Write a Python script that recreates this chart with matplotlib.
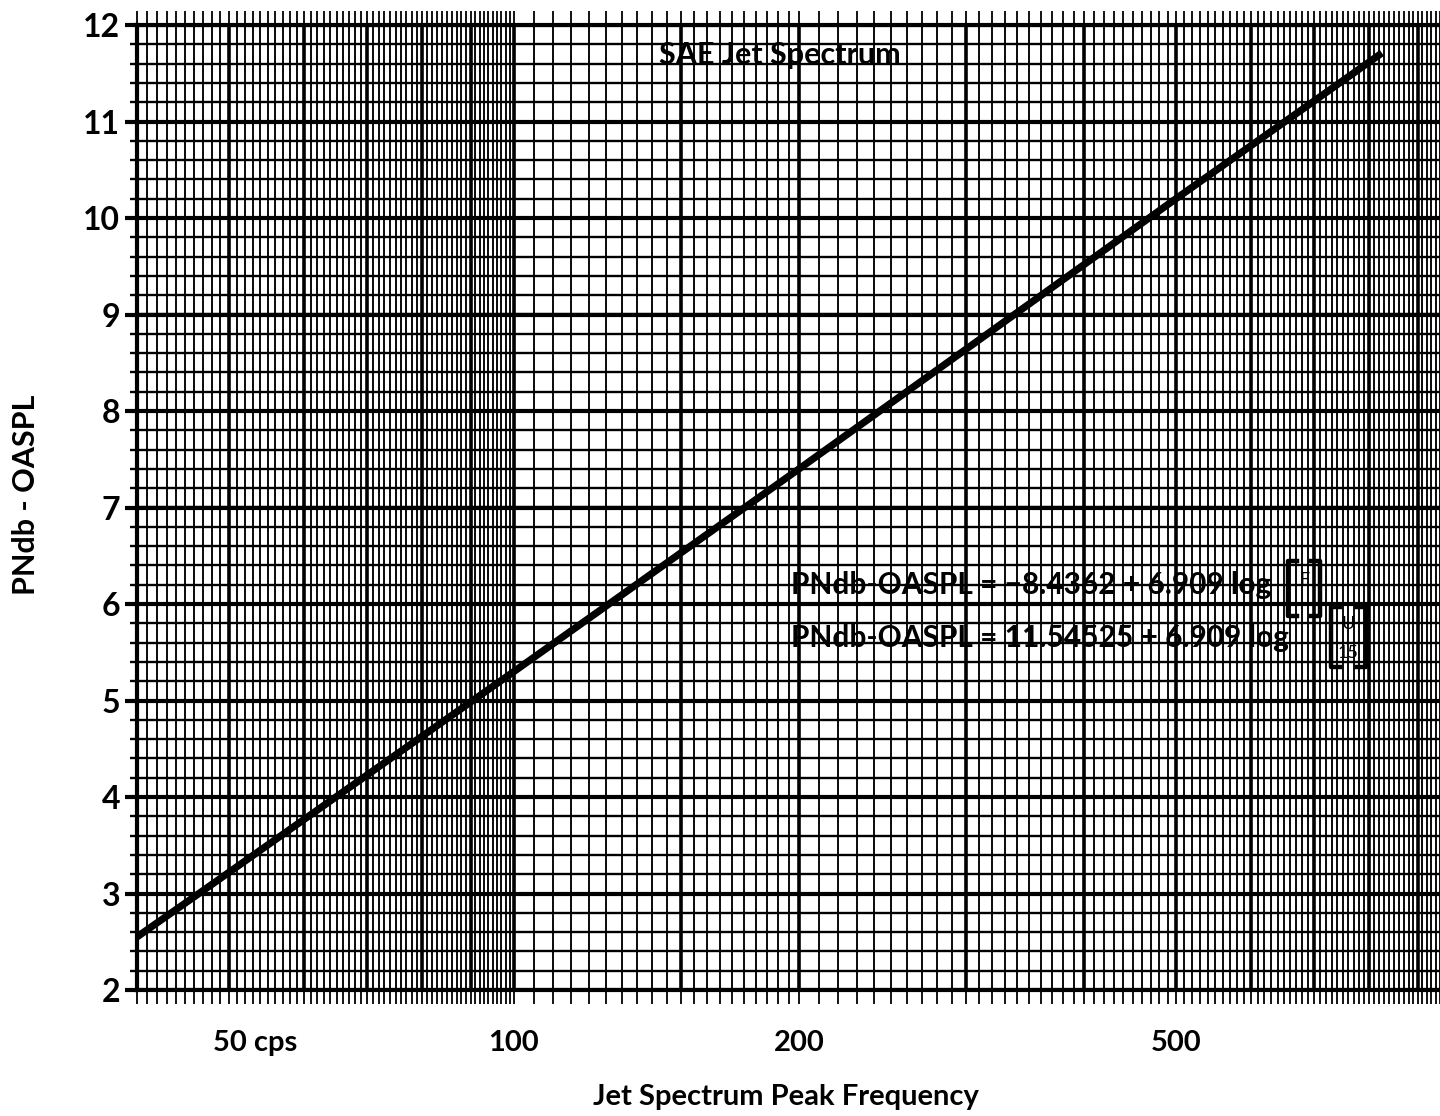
import matplotlib
matplotlib.use("Agg")
import matplotlib.pyplot as plt
import matplotlib.transforms as mtransforms
from matplotlib.lines import Line2D
import numpy as np

# values (straight line on semilog paper)
freq_hz = [40, 46.5, 100, 200, 500, 825]
pndb_minus_oaspl = [2.55, 3.0, 5.3, 7.4, 10.2, 11.71]

x_tick_vals = [50, 100, 200, 500]
x_tick_text = ["50 cps", "100", "200", "500"]
y_tick_vals = [2, 3, 4, 5, 6, 7, 8, 9, 10, 11, 12]

# log paper rulings
heavy_x = [40, 50, 60, 70, 80, 90, 100, 150, 200, 300, 400, 500, 600, 700, 800, 900]
fine_x = np.concatenate([np.arange(40, 100, 1), np.arange(100, 200, 5), np.arange(200, 951, 10)])
fine_y = np.arange(2, 12.01, 0.2)

FONT = "Lato"
W, H = 1440, 1116


def px(x, y):
    # pixel position (from top-left) -> figure fraction
    return x / W, 1 - y / H


def bracket(fig, x, y0, y1, side):
    # square bracket drawn as a stroke, side=+1 opens right "[", -1 opens left "]"
    arm = 9 * side
    xs = [x + arm, x, x, x + arm]
    ys = [y0, y0, y1, y1]
    fig.lines.append(Line2D([v / W for v in xs], [1 - v / H for v in ys],
                            transform=fig.transFigure, color="black", lw=3.2))


fig = plt.figure(figsize=(14.4, 11.16), dpi=100)
ax = fig.add_axes([137/W, 126/H, 1 - 137/W, (990-25)/H])

ax.set_xscale("log")
ax.set_xlim(40, 950)
ax.set_ylim(2, 12)

# grid drawn by hand so the heavier rulings show
for x in fine_x:
    ax.axvline(x, color="black", lw=1.35, zorder=1)
for x in heavy_x:
    ax.axvline(x, color="black", lw=2.6, zorder=2)
for y in fine_y:
    ax.axhline(y, color="black", lw=1.7, zorder=1)
for y in y_tick_vals:
    ax.axhline(y, color="black", lw=3.0, zorder=2)

ax.plot(freq_hz, pndb_minus_oaspl, color="black", lw=5.2, solid_capstyle="butt", zorder=5)

# ticks: rulings poke out past the frame
ax.xaxis.set_major_locator(matplotlib.ticker.FixedLocator(x_tick_vals))
ax.xaxis.set_minor_locator(matplotlib.ticker.FixedLocator(fine_x))
ax.xaxis.set_major_formatter(matplotlib.ticker.FixedFormatter(x_tick_text))
ax.xaxis.set_minor_formatter(matplotlib.ticker.NullFormatter())
ax.set_yticks(y_tick_vals)
ax.set_yticks(fine_y, minor=True)
ax.tick_params(axis="x", which="both", direction="out", length=10, width=1.3,
               top=True, bottom=True, pad=19, labelsize=21)
ax.tick_params(axis="y", which="major", direction="out", length=9, width=3.0, pad=3, labelsize=23)
ax.tick_params(axis="y", which="minor", direction="out", length=5, width=1.7)
for lab in ax.get_xticklabels() + ax.get_yticklabels():
    lab.set_fontfamily(FONT)
    lab.set_fontweight("bold")

first = ax.get_xticklabels()[0]
first.set_ha("left")
first.set_transform(first.get_transform() + mtransforms.ScaledTranslation(-16/100, 0, fig.dpi_scale_trans))

for s in ["left", "top", "bottom"]:
    ax.spines[s].set_linewidth(3.0)
ax.spines["right"].set_visible(False)

fig.text(*px(786, 1097), "Jet Spectrum Peak Frequency", fontsize=21, fontfamily=FONT,
         fontweight="bold", ha="center", va="center")
fig.text(*px(26, 495), "PNdb - OASPL", fontsize=22, fontfamily=FONT, fontweight="bold",
         rotation=90, ha="center", va="center")

fig.text(*px(780, 55), "SAE Jet Spectrum", fontsize=22, fontfamily=FONT, fontweight="bold",
         ha="center", va="center", zorder=6)

fig.text(*px(791, 585), "PNdb-OASPL = \u22128.4362 + 6.909 log", fontsize=21.5, fontfamily=FONT,
         fontweight="bold", ha="left", va="center", zorder=6)
fig.text(*px(791, 638), "PNdb-OASPL = 11.54525 + 6.909 log", fontsize=21.5, fontfamily=FONT,
         fontweight="bold", ha="left", va="center", zorder=6)

# bracketed arguments after "log"
bracket(fig, 1288, 561, 616, 1)
bracket(fig, 1320, 561, 616, -1)
fig.text(*px(1304, 580), "F", fontsize=13, fontfamily=FONT, ha="center", va="center")
bracket(fig, 1331, 607, 667, 1)
bracket(fig, 1366, 607, 667, -1)
fig.text(*px(1348, 624), "U", fontsize=13, fontfamily=FONT, ha="center", va="center")
fig.text(*px(1348, 653), "15", fontsize=13, fontfamily=FONT, ha="center", va="center")

fig.savefig("out.png", dpi=100, facecolor="white")
